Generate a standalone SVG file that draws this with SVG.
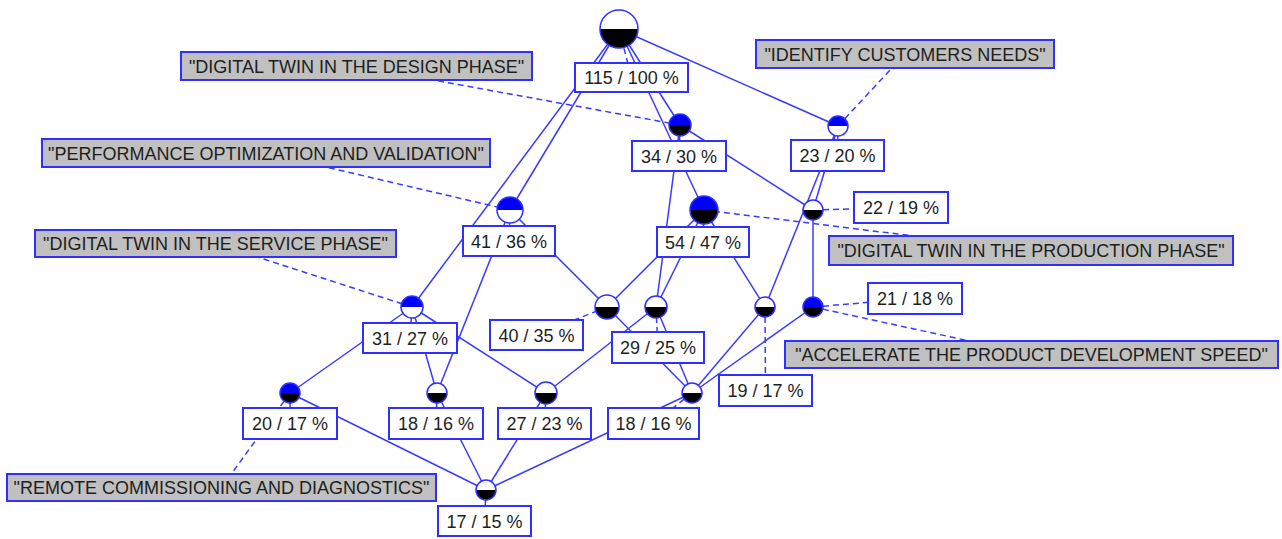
<svg xmlns="http://www.w3.org/2000/svg" width="1282" height="539" viewBox="0 0 1282 539">
<style>
.e{stroke:#3a3aff;stroke-width:1.5;fill:none}
.d{stroke:#3a3aff;stroke-width:1.5;fill:none;stroke-dasharray:6,4}
.lb{fill:#fff;stroke:#2f2fff;stroke-width:2}
.gb{fill:#c0c0c0;stroke:#2f2fff;stroke-width:2}
.t{font-family:"Liberation Sans",Arial,sans-serif;font-size:18px;fill:#1e1e1e;text-anchor:middle}
.ring{fill:none;stroke:#2f2fff;stroke-width:1.5}
.bl{fill:#0000ff}.bk{fill:#000}.wh{fill:#fff}
</style>
<rect width="1282" height="539" fill="#fff"/>
<g id="connectors">
<line class="e" x1="619" y1="29" x2="510" y2="210"/>
<line class="e" x1="619" y1="29" x2="412" y2="307"/>
<line class="e" x1="619" y1="29" x2="680" y2="125"/>
<line class="e" x1="619" y1="29" x2="704" y2="210"/>
<line class="e" x1="619" y1="29" x2="838" y2="126"/>
<line class="e" x1="680" y1="125" x2="813" y2="210"/>
<line class="e" x1="680" y1="125" x2="656" y2="307"/>
<line class="e" x1="838" y1="126" x2="813" y2="210"/>
<line class="e" x1="838" y1="126" x2="765" y2="307"/>
<line class="e" x1="813" y1="210" x2="813" y2="307"/>
<line class="e" x1="704" y1="210" x2="607" y2="307"/>
<line class="e" x1="704" y1="210" x2="656" y2="307"/>
<line class="e" x1="704" y1="210" x2="765" y2="307"/>
<line class="e" x1="510" y1="210" x2="607" y2="307"/>
<line class="e" x1="510" y1="210" x2="437" y2="393"/>
<line class="e" x1="412" y1="307" x2="290" y2="393"/>
<line class="e" x1="412" y1="307" x2="437" y2="393"/>
<line class="e" x1="412" y1="307" x2="546" y2="393"/>
<line class="e" x1="607" y1="307" x2="692" y2="393"/>
<line class="e" x1="656" y1="307" x2="692" y2="393"/>
<line class="e" x1="656" y1="307" x2="546" y2="393"/>
<line class="e" x1="765" y1="307" x2="692" y2="393"/>
<line class="e" x1="813" y1="307" x2="692" y2="393"/>
<line class="e" x1="692" y1="393" x2="486" y2="490"/>
<line class="e" x1="290" y1="393" x2="486" y2="490"/>
<line class="e" x1="437" y1="393" x2="486" y2="490"/>
<line class="e" x1="546" y1="393" x2="486" y2="490"/>
<line class="d" x1="619" y1="29" x2="631.5" y2="77.5"/>
<line class="d" x1="680" y1="125" x2="679" y2="156"/>
<line class="d" x1="680" y1="125" x2="356.5" y2="66"/>
<line class="d" x1="838" y1="126" x2="837.5" y2="155.5"/>
<line class="d" x1="838" y1="126" x2="905" y2="54"/>
<line class="d" x1="704" y1="210" x2="703" y2="242"/>
<line class="d" x1="704" y1="210" x2="1031" y2="250.5"/>
<line class="d" x1="510" y1="210" x2="509" y2="241"/>
<line class="d" x1="510" y1="210" x2="266" y2="153"/>
<line class="d" x1="813" y1="210" x2="901" y2="207.5"/>
<line class="d" x1="412" y1="307" x2="410" y2="338"/>
<line class="d" x1="412" y1="307" x2="215.5" y2="243.5"/>
<line class="d" x1="607" y1="307" x2="536.5" y2="335"/>
<line class="d" x1="656" y1="307" x2="658" y2="347.5"/>
<line class="d" x1="765" y1="307" x2="765.5" y2="390.5"/>
<line class="d" x1="813" y1="307" x2="915" y2="298.5"/>
<line class="d" x1="813" y1="307" x2="1031.5" y2="354.5"/>
<line class="d" x1="290" y1="393" x2="290" y2="423.5"/>
<line class="d" x1="290" y1="393" x2="221.5" y2="487.5"/>
<line class="d" x1="437" y1="393" x2="436" y2="423.5"/>
<line class="d" x1="546" y1="393" x2="544.5" y2="423.5"/>
<line class="d" x1="692" y1="393" x2="653.5" y2="423.5"/>
<line class="d" x1="486" y1="490" x2="484.5" y2="521"/>
</g>
<g id="attr-labels">
<g id="lbl-design"><rect class="gb" x="181" y="52" width="351" height="28"/><text class="t" x="356.5" y="72.5">"DIGITAL TWIN IN THE DESIGN PHASE"</text></g>
<g id="lbl-identify"><rect class="gb" x="756" y="40" width="298" height="28"/><text class="t" x="905" y="60.5">"IDENTIFY CUSTOMERS NEEDS"</text></g>
<g id="lbl-performance"><rect class="gb" x="42" y="139" width="448" height="28"/><text class="t" x="266" y="159.5">"PERFORMANCE OPTIMIZATION AND VALIDATION"</text></g>
<g id="lbl-service"><rect class="gb" x="35" y="230" width="361" height="27"/><text class="t" x="215.5" y="250">"DIGITAL TWIN IN THE SERVICE PHASE"</text></g>
<g id="lbl-production"><rect class="gb" x="829" y="236" width="404" height="29"/><text class="t" x="1031" y="257">"DIGITAL TWIN IN THE PRODUCTION PHASE"</text></g>
<g id="lbl-accelerate"><rect class="gb" x="785" y="341" width="493" height="27"/><text class="t" x="1031.5" y="361">"ACCELERATE THE PRODUCT DEVELOPMENT SPEED"</text></g>
<g id="lbl-remote"><rect class="gb" x="7" y="474" width="429" height="27"/><text class="t" x="221.5" y="494">"REMOTE COMMISSIONING AND DIAGNOSTICS"</text></g>
</g>
<g id="n0"><rect class="lb" x="575" y="63" width="113" height="29"/><text class="t" x="631.5" y="84">115 / 100 %</text>
<path class="wh" d="M600,29 A19,19 0 0 1 638,29Z"/><path class="bk" d="M600,29 A19,19 0 0 0 638,29Z"/><circle class="ring" cx="619" cy="29" r="19"/></g>
<g id="n34"><rect class="lb" x="632" y="141" width="94" height="30"/><text class="t" x="679" y="162.5">34 / 30 %</text>
<path class="bl" d="M669,125 A11,11 0 0 1 691,125Z"/><path class="bk" d="M669,125 A11,11 0 0 0 691,125Z"/><circle class="ring" cx="680" cy="125" r="11"/></g>
<g id="n23"><rect class="lb" x="791" y="140" width="93" height="31"/><text class="t" x="837.5" y="162">23 / 20 %</text>
<path class="bl" d="M828,126 A10,10 0 0 1 848,126Z"/><path class="wh" d="M828,126 A10,10 0 0 0 848,126Z"/><circle class="ring" cx="838" cy="126" r="10"/></g>
<g id="n54"><rect class="lb" x="657" y="227" width="92" height="30"/><text class="t" x="703" y="248.5">54 / 47 %</text>
<path class="bl" d="M690,210 A14,14 0 0 1 718,210Z"/><path class="bk" d="M690,210 A14,14 0 0 0 718,210Z"/><circle class="ring" cx="704" cy="210" r="14"/></g>
<g id="n41"><rect class="lb" x="463" y="226" width="92" height="30"/><text class="t" x="509" y="247.5">41 / 36 %</text>
<path class="bl" d="M497,210 A13,13 0 0 1 523,210Z"/><path class="wh" d="M497,210 A13,13 0 0 0 523,210Z"/><circle class="ring" cx="510" cy="210" r="13"/></g>
<g id="n22"><rect class="lb" x="854" y="192" width="94" height="31"/><text class="t" x="901" y="214">22 / 19 %</text>
<path class="wh" d="M803,210 A10,10 0 0 1 823,210Z"/><path class="bk" d="M803,210 A10,10 0 0 0 823,210Z"/><circle class="ring" cx="813" cy="210" r="10"/></g>
<g id="n31"><rect class="lb" x="363" y="323" width="94" height="30"/><text class="t" x="410" y="344.5">31 / 27 %</text>
<path class="bl" d="M401,307 A11,11 0 0 1 423,307Z"/><path class="wh" d="M401,307 A11,11 0 0 0 423,307Z"/><circle class="ring" cx="412" cy="307" r="11"/></g>
<g id="n40"><rect class="lb" x="490" y="320" width="93" height="30"/><text class="t" x="536.5" y="341.5">40 / 35 %</text>
<path class="wh" d="M595,307 A12,12 0 0 1 619,307Z"/><path class="bk" d="M595,307 A12,12 0 0 0 619,307Z"/><circle class="ring" cx="607" cy="307" r="12"/></g>
<g id="n29"><rect class="lb" x="612" y="332" width="92" height="31"/><text class="t" x="658" y="354">29 / 25 %</text>
<path class="wh" d="M645,307 A11,11 0 0 1 667,307Z"/><path class="bk" d="M645,307 A11,11 0 0 0 667,307Z"/><circle class="ring" cx="656" cy="307" r="11"/></g>
<g id="n19"><rect class="lb" x="719" y="375" width="93" height="31"/><text class="t" x="765.5" y="397">19 / 17 %</text>
<path class="wh" d="M755,307 A10,10 0 0 1 775,307Z"/><path class="bk" d="M755,307 A10,10 0 0 0 775,307Z"/><circle class="ring" cx="765" cy="307" r="10"/></g>
<g id="n21"><rect class="lb" x="868" y="283" width="94" height="31"/><text class="t" x="915" y="305">21 / 18 %</text>
<path class="bl" d="M803,307 A10,10 0 0 1 823,307Z"/><path class="bk" d="M803,307 A10,10 0 0 0 823,307Z"/><circle class="ring" cx="813" cy="307" r="10"/></g>
<g id="n20"><rect class="lb" x="243" y="408" width="94" height="31"/><text class="t" x="290" y="430">20 / 17 %</text>
<path class="bl" d="M280,393 A10,10 0 0 1 300,393Z"/><path class="bk" d="M280,393 A10,10 0 0 0 300,393Z"/><circle class="ring" cx="290" cy="393" r="10"/></g>
<g id="n18a"><rect class="lb" x="389" y="408" width="94" height="31"/><text class="t" x="436" y="430">18 / 16 %</text>
<path class="wh" d="M427,393 A10,10 0 0 1 447,393Z"/><path class="bk" d="M427,393 A10,10 0 0 0 447,393Z"/><circle class="ring" cx="437" cy="393" r="10"/></g>
<g id="n27"><rect class="lb" x="498" y="408" width="93" height="31"/><text class="t" x="544.5" y="430">27 / 23 %</text>
<path class="wh" d="M535,393 A11,11 0 0 1 557,393Z"/><path class="bk" d="M535,393 A11,11 0 0 0 557,393Z"/><circle class="ring" cx="546" cy="393" r="11"/></g>
<g id="n18b"><rect class="lb" x="608" y="408" width="91" height="31"/><text class="t" x="653.5" y="430">18 / 16 %</text>
<path class="wh" d="M682,393 A10,10 0 0 1 702,393Z"/><path class="bk" d="M682,393 A10,10 0 0 0 702,393Z"/><circle class="ring" cx="692" cy="393" r="10"/></g>
<g id="n17"><rect class="lb" x="438" y="506" width="93" height="30"/><text class="t" x="484.5" y="527.5">17 / 15 %</text>
<path class="wh" d="M476,490 A10,10 0 0 1 496,490Z"/><path class="bk" d="M476,490 A10,10 0 0 0 496,490Z"/><circle class="ring" cx="486" cy="490" r="10"/></g>
</svg>
